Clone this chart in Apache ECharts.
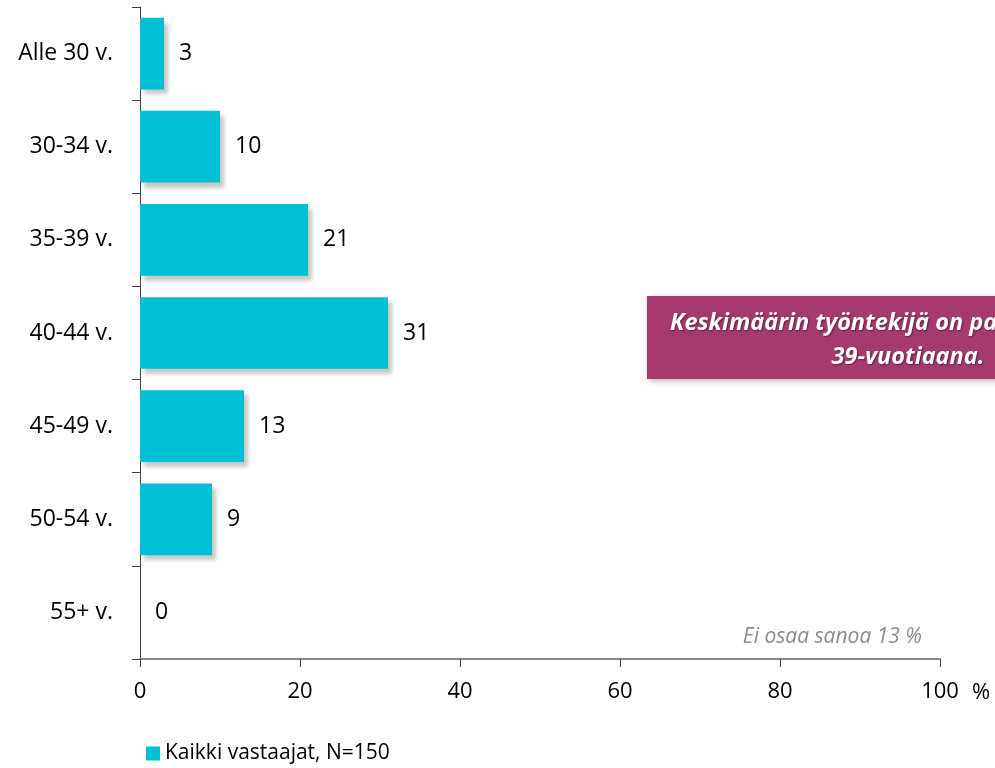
<!DOCTYPE html>
<html>
<head>
<meta charset="utf-8">
<script src="https://cdn.jsdelivr.net/npm/echarts@6/dist/echarts.min.js"></script>
<style>
  html, body { margin: 0; padding: 0; background: #fff; }
  #ika { width: 995px; height: 768px; }
</style>
</head>
<body>
<div id="ika"></div>
<script>
  // ikäryhmät ja osuudet (%)
  const categories = ['Alle 30 v.', '30-34 v.', '35-39 v.', '40-44 v.', '45-49 v.', '50-54 v.', '55+ v.'];
  const values = [3, 10, 21, 31, 13, 9, 0];
  const xTicks = [0, 20, 40, 60, 80, 100];
  const seriesName = 'Kaikki vastaajat, N=150';

  const font = '"Open Sans", "Noto Sans", sans-serif';
  let chart = echarts.init(document.getElementById('ika'));

  chart.setOption({
    animation: false,
    textStyle: { fontFamily: font },
    grid: { left: 140, right: 55, top: 7, bottom: 109 },
    legend: {
      left: 141,
      top: 738,
      icon: 'rect',
      itemWidth: 14,
      itemHeight: 14,
      textStyle: { fontSize: 21, color: '#000', fontFamily: font },
      data: [seriesName]
    },
    xAxis: {
      type: 'value',
      min: xTicks[0],
      max: xTicks[xTicks.length - 1],
      interval: 20,
      axisLine: { show: true, lineStyle: { color: '#868686', width: 2 } },
      axisTick: { show: true, length: 8, lineStyle: { color: '#404040' } },
      axisLabel: { fontSize: 22, color: '#000', margin: 22 },
      splitLine: { show: false }
    },
    yAxis: {
      type: 'category',
      inverse: true,
      data: categories,
      axisLine: { lineStyle: { color: '#404040', width: 1 } },
      axisTick: { show: true, length: 8, alignWithLabel: false, lineStyle: { color: '#404040' } },
      axisLabel: { fontSize: 23, color: '#000', margin: 27 }
    },
    series: [{
      name: seriesName,
      type: 'bar',
      data: values,
      barCategoryGap: '23%',
      itemStyle: {
        color: '#00c0d6',
        shadowColor: 'rgba(0, 0, 0, 0.22)',
        shadowBlur: 4,
        shadowOffsetX: 4,
        shadowOffsetY: 5
      },
      label: {
        show: true,
        position: 'right',
        distance: 15,
        fontSize: 23,
        color: '#000'
      }
    }],
    graphic: [
      {
        type: 'text',
        x: 972,
        y: 693,
        style: {
          text: '%',
          align: 'left',
          verticalAlign: 'middle',
          fill: '#000',
          font: '22px ' + font
        }
      },
      {
        type: 'rect',
        left: 647,
        top: 296,
        shape: { width: 560, height: 83 },
        style: {
          fill: '#a63a6e',
          shadowColor: 'rgba(0, 0, 0, 0.3)',
          shadowBlur: 6,
          shadowOffsetX: 2,
          shadowOffsetY: 2
        },
        z: 10
      },
      {
        type: 'text',
        x: 670,
        y: 323,
        style: {
          text: 'Keskimäärin työntekijä on palkattaessa noin',
          verticalAlign: 'middle',
          fill: '#fff',
          font: 'italic bold 23.5px ' + font,
          textShadowColor: 'rgba(0, 0, 0, 0.45)',
          textShadowBlur: 2,
          textShadowOffsetX: 1,
          textShadowOffsetY: 1
        },
        z: 11
      },
      {
        type: 'text',
        x: 908,
        y: 357,
        style: {
          text: '39-vuotiaana.',
          align: 'center',
          verticalAlign: 'middle',
          fill: '#fff',
          font: 'italic bold 23.5px ' + font,
          textShadowColor: 'rgba(0, 0, 0, 0.45)',
          textShadowBlur: 2,
          textShadowOffsetX: 1,
          textShadowOffsetY: 1
        },
        z: 11
      },
      {
        type: 'text',
        x: 922,
        y: 637,
        style: {
          text: 'Ei osaa sanoa 13 %',
          align: 'right',
          verticalAlign: 'middle',
          fill: '#8c8c8c',
          font: 'italic 21px ' + font
        }
      }
    ]
  });
</script>
</body>
</html>
